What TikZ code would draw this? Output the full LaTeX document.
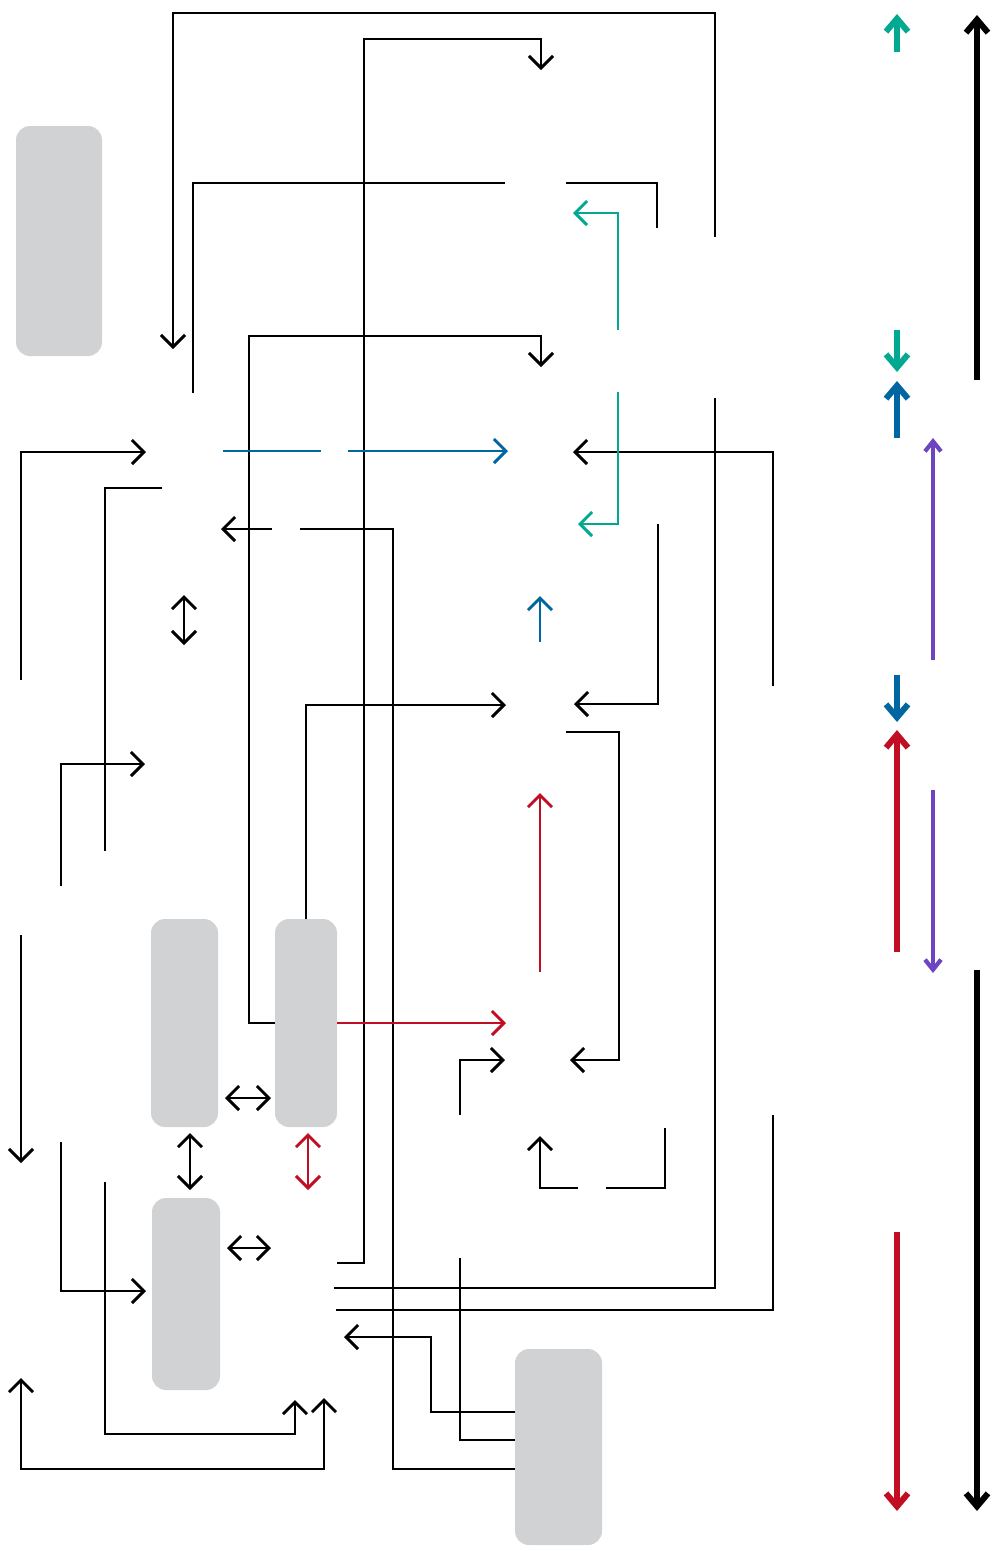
\documentclass[tikz,border=0pt]{standalone}
\usepackage{xcolor}
\usetikzlibrary{arrows.meta,positioning}
\definecolor{boxgray}{HTML}{D1D2D4}
\definecolor{flowgreen}{HTML}{00A98F}
\definecolor{flowblue}{HTML}{0066A1}
\definecolor{flowred}{HTML}{C20E22}
\definecolor{flowpurple}{HTML}{6E45C0}

\begin{document}
\begin{tikzpicture}[
  x=1pt, y=-1pt,
  box/.style={fill=boxgray, rounded corners=14pt, inner sep=0pt, outer sep=0pt},
  link/.style={line width=2.9pt},
  arr/.style={link, -{Straight Barb[length=12pt,width=24pt]}},
  dbl/.style={link, {Straight Barb[length=12pt,width=24pt]}-{Straight Barb[length=12pt,width=24pt]}},
  key/.style={line width=6pt, -{Straight Barb[length=13pt,width=22pt]}},
  thinkey/.style={line width=4.2pt, -{Straight Barb[length=10pt,width=16pt]}}
]
\useasboundingbox (0,0) rectangle (993,1551);

% grey blocks
\node[box, minimum width=86pt, minimum height=230pt] (side) at (59,241) {};
\node[box, minimum width=67pt, minimum height=208pt] (left) at (184.5,1023) {};
\node[box, minimum width=62pt, minimum height=208pt, right=57pt of left] (mid) {};
\node[box, minimum width=68pt, minimum height=192pt, below=71pt of left, xshift=1.5pt] (low) {};
\node[box, minimum width=87pt, minimum height=196pt] (store) at (558.5,1447) {};

% free ends
\coordinate (t1) at (715,237);  \coordinate (t2) at (173,349);
\coordinate (t3) at (337,1263); \coordinate (t4) at (541,70);
\coordinate (t5) at (193,393);  \coordinate (t6) at (505,183);
\coordinate (t7) at (566,183);  \coordinate (t8) at (657,228);
\coordinate (t9) at (541,367);
\coordinate (g1) at (618,330);  \coordinate (g2) at (573,213);
\coordinate (g3) at (618,392);  \coordinate (g4) at (578,524);
\coordinate (b1) at (223,451);  \coordinate (b2) at (321,451);
\coordinate (b3) at (348,451);  \coordinate (b4) at (508,451);
\coordinate (b5) at (540,642);  \coordinate (b6) at (540,596);
\coordinate (r1) at (540,972);  \coordinate (r2) at (540,793);
\coordinate (r3) at (506,1023);
\coordinate (c1) at (773,686);  \coordinate (c2) at (573,452);
\coordinate (a1) at (21,680);   \coordinate (a2) at (146,452);
\coordinate (a3) at (162,488);  \coordinate (a4) at (105,851);
\coordinate (a5) at (272,529);  \coordinate (a6) at (221,529);
\coordinate (a7) at (300,529);
\coordinate (a8) at (61,886);   \coordinate (a9) at (145,764);
\coordinate (a10) at (21,935);  \coordinate (a11) at (21,1163);
\coordinate (a12) at (61,1142); \coordinate (a13) at (146,1291);
\coordinate (a14) at (105,1182);\coordinate (a15) at (295,1400);
\coordinate (a16) at (21,1378); \coordinate (a17) at (324,1398);
\coordinate (e1) at (506,705);
\coordinate (e2) at (658,524);  \coordinate (e3) at (574,704);
\coordinate (e4) at (566,732);  \coordinate (e5) at (570,1060);
\coordinate (e6) at (460,1115); \coordinate (e7) at (505,1060);
\coordinate (e8) at (578,1188); \coordinate (e9) at (540,1136);
\coordinate (e10) at (606,1188);\coordinate (e11) at (665,1128);
\coordinate (f1) at (334,1288); \coordinate (f2) at (715,398);
\coordinate (f3) at (336,1310); \coordinate (f4) at (773,1115);
\coordinate (f5) at (460,1258); \coordinate (f6) at (344,1337);
\coordinate (d1) at (184,595);  \coordinate (d2) at (184,645);
\coordinate (d3) at (225,1098); \coordinate (d4) at (271,1098);
\coordinate (d5) at (190,1133); \coordinate (d6) at (190,1190);
\coordinate (d7) at (308,1133); \coordinate (d8) at (308,1190);
\coordinate (d9) at (227,1248); \coordinate (d10) at (271,1248);

% connectors
\draw[arr] (t1) -- (715,13) -| (t2);
\draw[arr] (t3) -- (364,1263) -- (364,39) -| (t4);
\draw[link] (t5) |- (t6);
\draw[link] (t7) -| (t8);
\draw[arr, flowgreen] (g1) |- (g2);
\draw[arr] (mid.west) -| (249,336) -| (t9);
\draw[arr] (a1) |- (a2);
\draw[link, flowblue] (b1) -- (b2);
\draw[arr, flowblue] (b3) -- (b4);
\draw[arr] (c1) |- (c2);
\draw[arr, flowgreen] (g3) |- (g4);
\draw[link] (a3) -| (a4);
\draw[arr] (a5) -- (a6);
\draw[link] (a7) -| (393,1469) -- (0,1469 -| store.west);
\draw[dbl] (d1) -- (d2);
\draw[arr, flowblue] (b5) -- (b6);
\draw[arr] (mid.north) |- (e1);
\draw[arr] (e2) |- (e3);
\draw[arr] (e4) -| (619,1060) -- (e5);
\draw[arr] (a8) |- (a9);
\draw[arr, flowred] (r1) -- (r2);
\draw[arr, flowred] (mid.east) -- (r3);
\draw[arr] (a10) -- (a11);
\draw[arr] (e6) |- (e7);
\draw[dbl] (d3) -- (d4);
\draw[dbl] (d5) -- (d6);
\draw[dbl, flowred] (d7) -- (d8);
\draw[arr] (e8) -| (e9);
\draw[link] (e10) -| (e11);
\draw[dbl] (d9) -- (d10);
\draw[arr] (a12) |- (a13);
\draw[link] (f1) -| (f2);
\draw[link] (f3) -| (f4);
\draw[link] (f5) |- (0,1440 -| store.west);
\draw[arr] (0,1412 -| store.west) -| (431,1337) -- (f6);
\draw[arr] (a14) -- (105,1434) -| (a15);
\draw[dbl] (a16) -- (21,1469) -| (a17);

% key arrows on the right
\coordinate (k1) at (897,52);   \coordinate (k2) at (897,14);
\coordinate (k3) at (897,330);  \coordinate (k4) at (897,372);
\coordinate (k5) at (897,438);  \coordinate (k6) at (897,381);
\coordinate (k7) at (897,675);  \coordinate (k8) at (897,722);
\coordinate (k9) at (897,952);  \coordinate (k10) at (897,730);
\coordinate (k11) at (897,1232);\coordinate (k12) at (897,1511);
\coordinate (p1) at (933,660);  \coordinate (p2) at (933,438);
\coordinate (p3) at (933,790);  \coordinate (p4) at (933,973);
\coordinate (s1) at (977,380);  \coordinate (s2) at (977,15);
\coordinate (s3) at (977,970);  \coordinate (s4) at (977,1511);
\draw[key, flowgreen] (k1) -- (k2);
\draw[key, flowgreen] (k3) -- (k4);
\draw[key, flowblue] (k5) -- (k6);
\draw[key, flowblue] (k7) -- (k8);
\draw[key, flowred] (k9) -- (k10);
\draw[key, flowred] (k11) -- (k12);
\draw[thinkey, flowpurple] (p1) -- (p2);
\draw[thinkey, flowpurple] (p3) -- (p4);
\draw[key] (s1) -- (s2);
\draw[key] (s3) -- (s4);

\end{tikzpicture}
\end{document}
